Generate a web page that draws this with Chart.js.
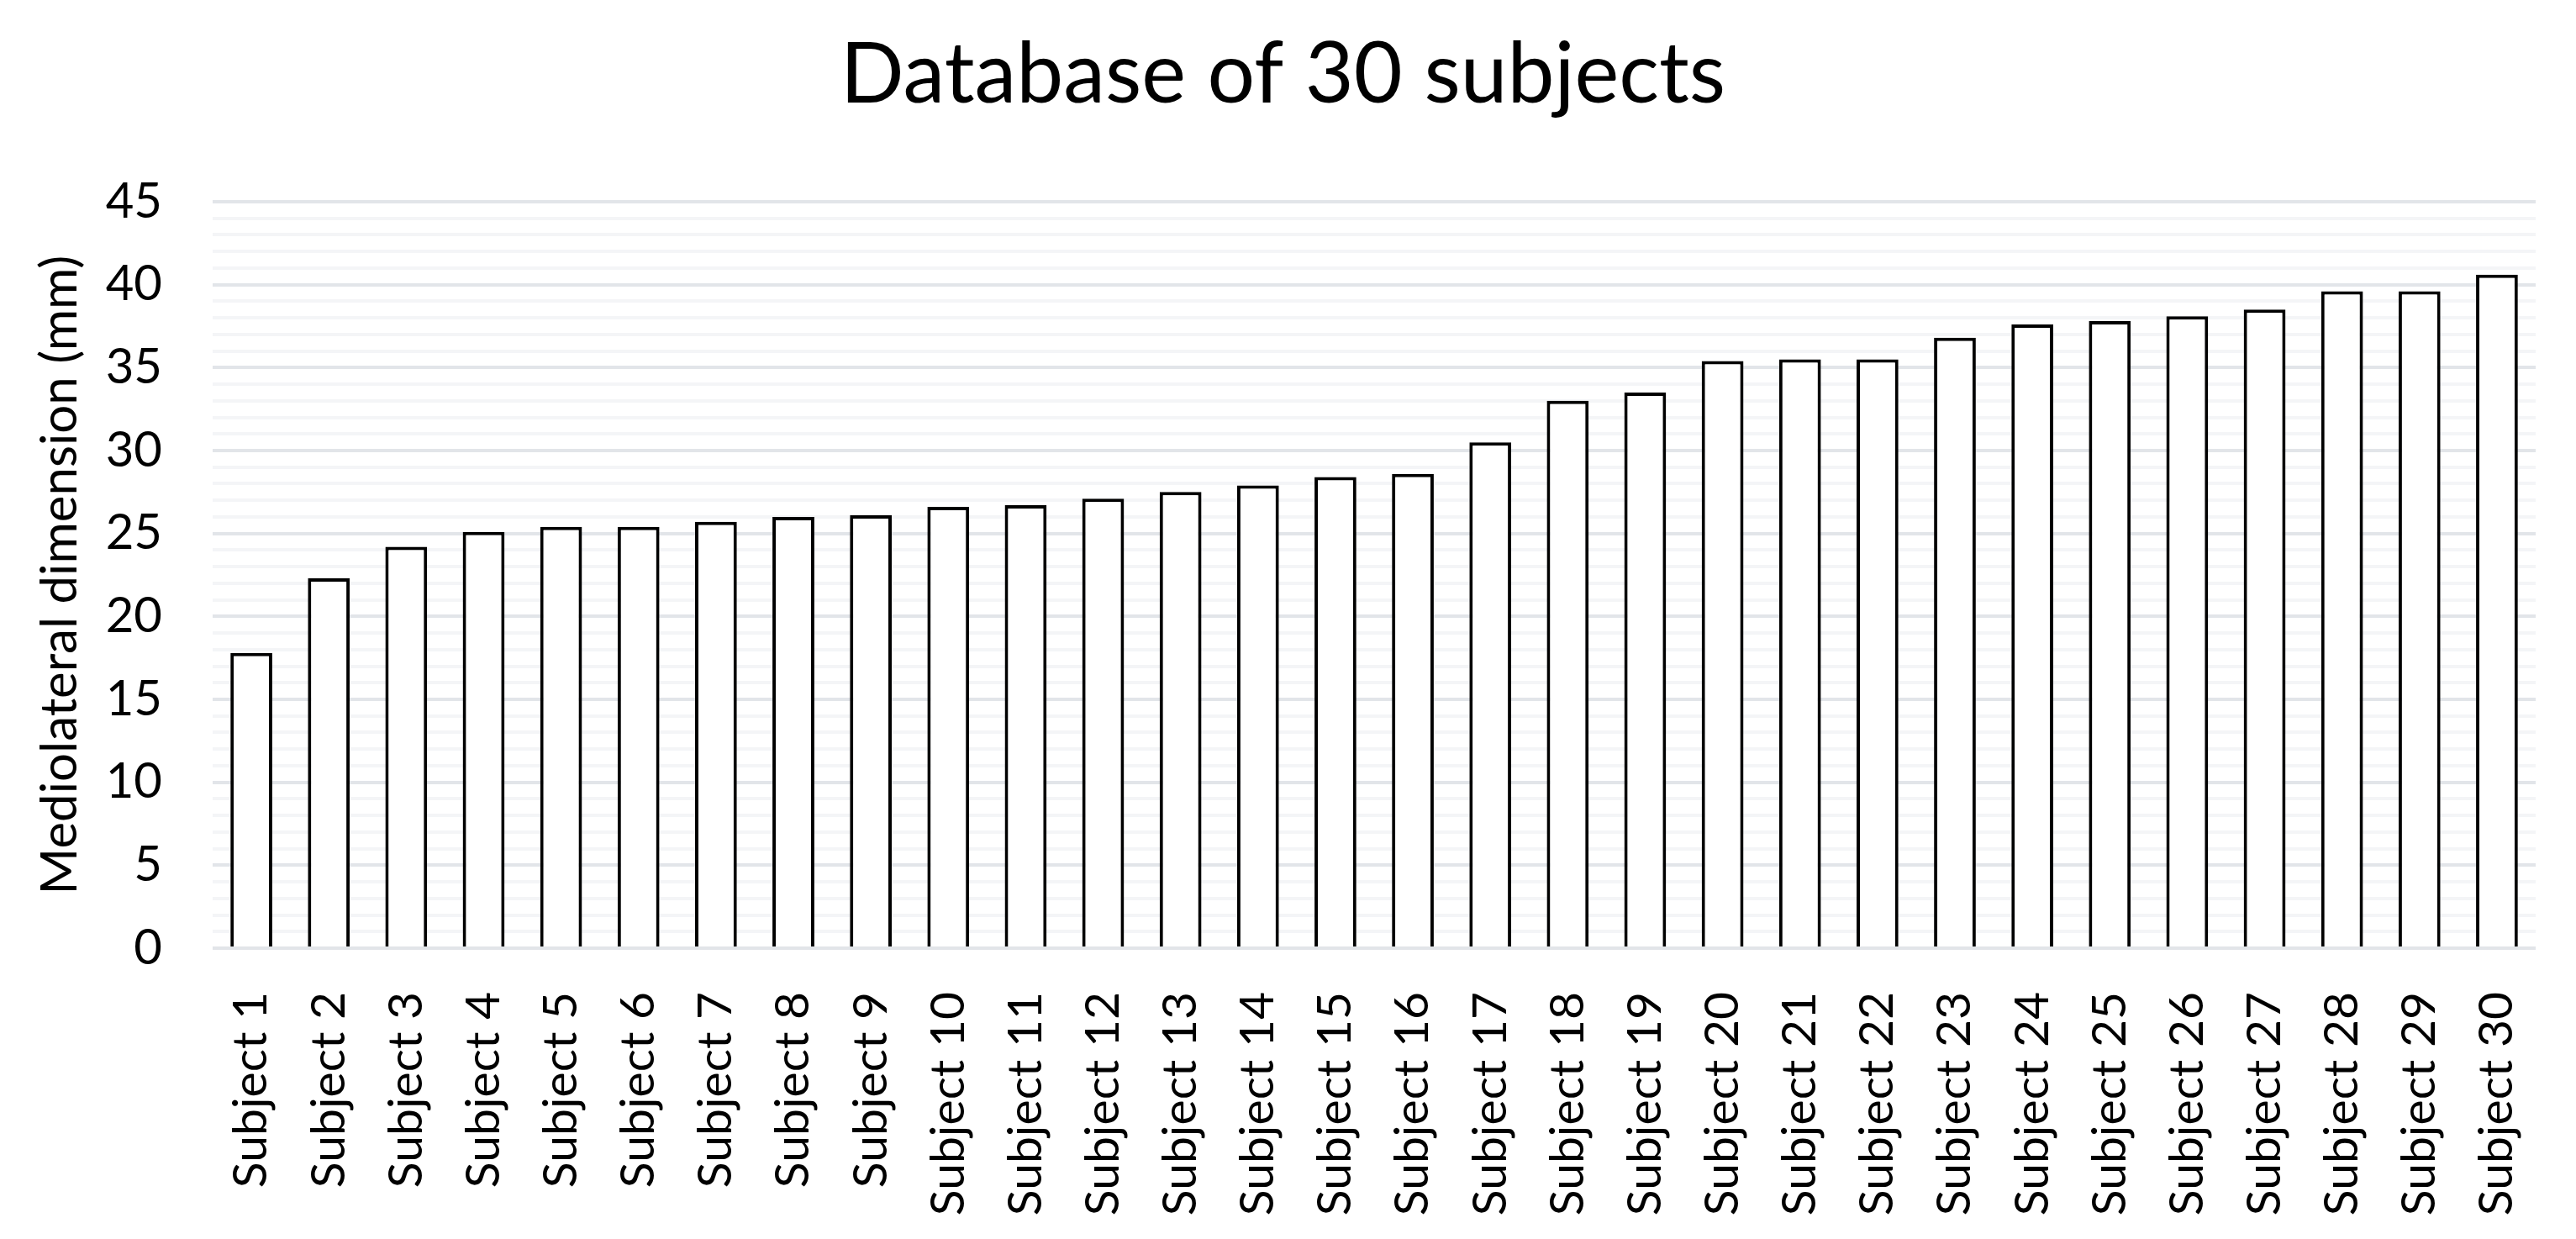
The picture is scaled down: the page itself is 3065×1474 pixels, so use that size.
<!DOCTYPE html>
<html>
<head>
<meta charset="utf-8">
<title>Database of 30 subjects</title>
<script src="https://cdn.jsdelivr.net/npm/chart.js@4.4.1/dist/chart.umd.min.js"></script>
<style>
  html, body { margin: 0; padding: 0; background: #ffffff; }
  #wrap { width: 3065px; height: 1474px; }
</style>
</head>
<body>
<div id="wrap"><canvas id="graficoBarras" width="3065" height="1474"></canvas></div>
<script>
// datos
const subjects = [
  'Subject 1', 'Subject 2', 'Subject 3', 'Subject 4', 'Subject 5',
  'Subject 6', 'Subject 7', 'Subject 8', 'Subject 9', 'Subject 10',
  'Subject 11', 'Subject 12', 'Subject 13', 'Subject 14', 'Subject 15',
  'Subject 16', 'Subject 17', 'Subject 18', 'Subject 19', 'Subject 20',
  'Subject 21', 'Subject 22', 'Subject 23', 'Subject 24', 'Subject 25',
  'Subject 26', 'Subject 27', 'Subject 28', 'Subject 29', 'Subject 30'
];
const mediolateral = [
  17.8, 22.3, 24.2, 25.1, 25.4, 25.4, 25.7, 26.0, 26.1, 26.6,
  26.7, 27.1, 27.5, 27.9, 28.4, 28.6, 30.5, 33.0, 33.5, 35.4,
  35.5, 35.5, 36.8, 37.6, 37.8, 38.1, 38.5, 39.6, 39.6, 40.6
];
const yTickLabels = [0, 5, 10, 15, 20, 25, 30, 35, 40, 45];

const fontFamily = 'Lato, "Open Sans", sans-serif';

const ctx = document.getElementById('graficoBarras').getContext('2d');
new Chart(ctx, {
  type: 'bar',
  data: {
    labels: subjects,
    datasets: [{
      label: 'Mediolateral dimension (mm)',
      data: mediolateral,
      backgroundColor: '#ffffff',
      borderColor: '#000000',
      borderWidth: 4,
      borderSkipped: 'bottom',
      barPercentage: 0.54,
      categoryPercentage: 1
    }]
  },
  options: {
    responsive: false,
    animation: false,
    devicePixelRatio: 1,
    layout: {
      padding: { top: 0, left: 36, right: 48, bottom: 0 }
    },
    scales: {
      x: {
        grid: { display: false },
        border: { display: false },
        ticks: {
          autoSkip: false,
          maxRotation: 90,
          minRotation: 90,
          padding: 44,
          color: '#000000',
          font: { family: fontFamily, size: 57 }
        },
        // alto fijo del eje para que la base quede donde en la imagen
        afterFit: (scale) => {
          scale.height = 346;
          scale.paddingRight = 0;
        }
      },
      y: {
        min: 0,
        max: 45,
        border: { display: false },
        grid: {
          drawTicks: false,
          lineWidth: 4,
          // lineas mayores cada 5, menores cada 1
          color: (c) => yTickLabels.includes(c.tick.value) ? '#e2e5e9' : '#f4f5f7'
        },
        ticks: {
          stepSize: 1,
          autoSkip: false,
          padding: 60,
          color: '#000000',
          font: { family: fontFamily, size: 58 },
          callback: (value) => yTickLabels.includes(value) ? String(value) : ''
        },
        title: {
          display: true,
          text: 'Mediolateral dimension (mm)',
          color: '#000000',
          font: { family: fontFamily, size: 60 },
          padding: { top: 0, bottom: 14 }
        },
        afterFit: (scale) => {
          scale.width = 217;
        }
      }
    },
    plugins: {
      legend: { display: false },
      tooltip: { enabled: false },
      title: {
        display: true,
        text: 'Database of 30 subjects',
        color: '#000000',
        font: { family: fontFamily, size: 100, weight: 'normal' },
        padding: { top: 30, bottom: 90 }
      }
    }
  }
});
</script>
</body>
</html>
